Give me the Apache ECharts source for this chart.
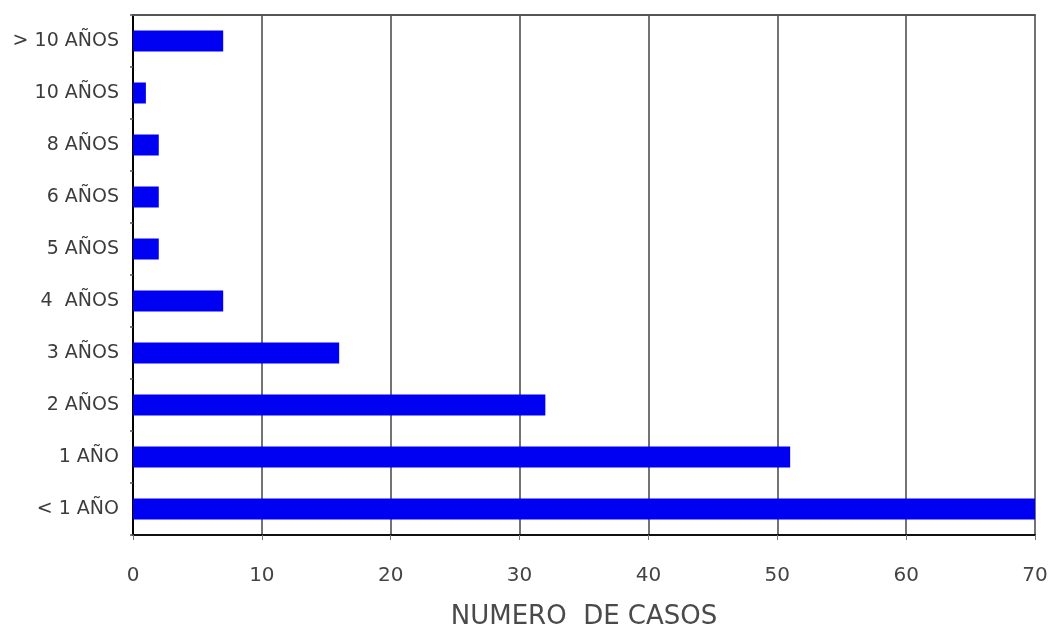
<!DOCTYPE html>
<html>
<head>
<meta charset="utf-8">
<script src="https://cdn.jsdelivr.net/npm/echarts@6/dist/echarts.min.js"></script>
<style>
  html, body { margin: 0; padding: 0; background: #ffffff; }
  #chart { width: 1053px; height: 635px; }
</style>
</head>
<body>
<div id="chart"></div>
<script>
// Age groups, listed from bottom to top of the chart
const categories = ['< 1 AÑO', '1 AÑO', '2 AÑOS', '3 AÑOS', '4  AÑOS', '5 AÑOS', '6 AÑOS', '8 AÑOS', '10 AÑOS', '> 10 AÑOS'];
// Number of cases per age group
const casos = [70, 51, 32, 16, 7, 2, 2, 2, 1, 7];
// Value axis settings
const xMin = 0;
const xMax = 70;
const xStep = 10;
const axisTitle = 'NUMERO  DE CASOS';

const chart = echarts.init(document.getElementById('chart'));
const font = '"DejaVu Sans", Arial, sans-serif';

chart.setOption({
  animation: false,
  backgroundColor: '#ffffff',
  grid: { left: 133, right: 18, top: 15, bottom: 98, containLabel: false },
  xAxis: [
    {
      type: 'value',
      min: xMin,
      max: xMax,
      interval: xStep,
      position: 'bottom',
      name: axisTitle,
      nameLocation: 'middle',
      nameGap: 69,
      nameTextStyle: { fontFamily: font, fontSize: 26, color: '#4a4a4a' },
      axisLine: { show: true, lineStyle: { color: '#111111', width: 2 } },
      axisTick: { show: true, length: 5, lineStyle: { color: '#777777', width: 1 } },
      axisLabel: { margin: 31, fontFamily: font, fontSize: 20, color: '#444444' },
      splitLine: { show: true, lineStyle: { color: '#454545', width: 1.5 } }
    },
    {
      type: 'value',
      min: xMin,
      max: xMax,
      interval: xStep,
      position: 'top',
      axisLine: { show: true, lineStyle: { color: '#555555', width: 2 } },
      axisTick: { show: false },
      axisLabel: { show: false },
      splitLine: { show: false }
    }
  ],
  yAxis: [
    {
      type: 'category',
      data: categories,
      position: 'left',
      axisLine: { show: true, lineStyle: { color: '#9a9a9a', width: 2 } },
      axisTick: { show: true, length: 3, inside: false, lineStyle: { color: '#555555', width: 1.5 } },
      axisLabel: { margin: 14, fontFamily: font, fontSize: 19, color: '#3c3c3c' },
      splitLine: { show: false }
    },
    {
      type: 'category',
      data: categories,
      position: 'right',
      axisLine: { show: true, lineStyle: { color: '#000000', width: 2 } },
      axisTick: { show: false },
      axisLabel: { show: false },
      splitLine: { show: false }
    }
  ],
  series: [
    {
      type: 'bar',
      data: casos,
      xAxisIndex: 0,
      yAxisIndex: 0,
      barWidth: 21,
      itemStyle: { color: '#0000f2' }
    }
  ]
});
</script>
</body>
</html>
